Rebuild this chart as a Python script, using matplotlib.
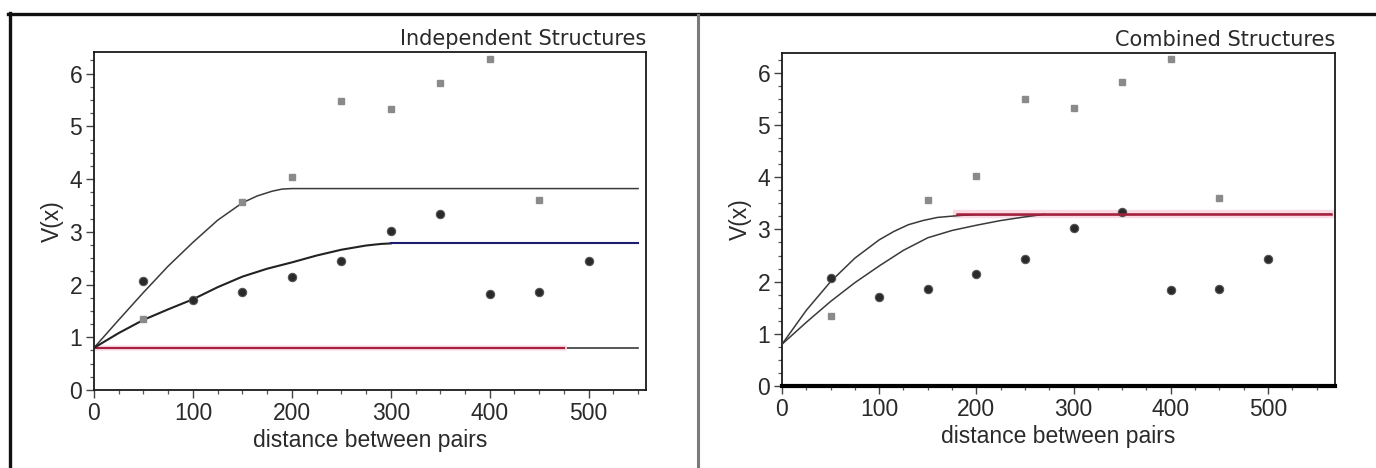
import matplotlib
matplotlib.use("Agg")
import matplotlib.pyplot as plt
from matplotlib.ticker import MultipleLocator
from matplotlib.lines import Line2D

# Empirical semivariogram points (lag distance -> V(x))
dot_lags = [50, 100, 150, 200, 250, 300, 350, 400, 450, 500]
dot_vals = [2.07, 1.70, 1.86, 2.15, 2.44, 3.02, 3.34, 1.83, 1.85, 2.44]
sq_lags = [50, 150, 200, 250, 300, 350, 400, 450]
sq_vals = [1.35, 3.57, 4.03, 5.49, 5.33, 5.83, 6.27, 3.61]

# Independent structures: fitted model curves
ind_up_x = [0, 25, 50, 75, 100, 125, 150, 165, 180, 190, 200, 550]
ind_up_y = [0.80, 1.33, 1.85, 2.35, 2.80, 3.22, 3.55, 3.68, 3.77, 3.81, 3.82, 3.82]
ind_lo_x = [0, 25, 50, 75, 100, 125, 150, 175, 200, 225, 250, 275, 290, 300]
ind_lo_y = [0.80, 1.08, 1.33, 1.53, 1.72, 1.95, 2.15, 2.30, 2.42, 2.55, 2.66, 2.74, 2.77, 2.78]
ind_lo_sill_x = [300, 550]
ind_lo_sill_y = [2.78, 2.78]
nugget_x = [0, 550]
nugget_y = [0.80, 0.80]
nugget_red_x = [0, 475]

# Combined structures: fitted model curves
cmb_up_x = [0, 25, 50, 75, 100, 115, 130, 145, 160, 185, 200, 565]
cmb_up_y = [0.80, 1.45, 2.00, 2.45, 2.80, 2.96, 3.09, 3.17, 3.23, 3.27, 3.28, 3.29]
cmb_lo_x = [0, 25, 50, 75, 100, 125, 150, 175, 200, 225, 250, 270]
cmb_lo_y = [0.80, 1.22, 1.62, 1.98, 2.30, 2.60, 2.84, 2.98, 3.08, 3.17, 3.24, 3.29]
cmb_sill_x = [180, 565]
cmb_sill_y = [3.29, 3.29]

TICK_FONT = "Liberation Sans"
TITLE_FONT = "DejaVu Sans"
CURVE = "#3a3a3a"
RED = "#a8203f"
NAVY = "#1c1c70"
TEXT = "#2a2a2a"

fig = plt.figure(figsize=(13.76, 4.68), dpi=100)
fig.patch.set_facecolor("white")

ax1 = fig.add_axes([94 / 1376, 1 - 390 / 468, 552 / 1376, 338 / 468])
ax2 = fig.add_axes([782 / 1376, 1 - 386 / 468, 553 / 1376, 333 / 468])


def style(ax, xmax, ymax, title):
    ax.set_xlim(0, xmax)
    ax.set_ylim(0, ymax)
    ax.xaxis.set_major_locator(MultipleLocator(100))
    ax.xaxis.set_minor_locator(MultipleLocator(25))
    ax.yaxis.set_major_locator(MultipleLocator(1))
    ax.yaxis.set_minor_locator(MultipleLocator(0.25))
    ax.tick_params(which="major", direction="out", length=5.5, width=1.0,
                   color="#444444", labelsize=16.5, pad=3)
    ax.tick_params(which="minor", direction="out", length=3, width=0.9,
                   color="#555555")
    for lab in ax.get_xticklabels() + ax.get_yticklabels():
        lab.set_fontfamily(TICK_FONT)
        lab.set_color(TEXT)
    for sp in ax.spines.values():
        sp.set_linewidth(1.3)
        sp.set_color("#1a1a1a")
    ax.set_xlabel("distance between pairs", fontsize=16.5, family=TICK_FONT,
                  color=TEXT, labelpad=3)
    ax.set_ylabel("V(x)", fontsize=16.5, family=TICK_FONT, color=TEXT,
                  labelpad=4)
    ax.text(1.0, 1.008, title, transform=ax.transAxes, ha="right", va="bottom",
            fontsize=15, family=TITLE_FONT, color=TEXT)


def points(ax):
    ax.plot(sq_lags, sq_vals, linestyle="none", marker="s", markersize=4,
            color="#8a8a8a", zorder=4)
    ax.plot(dot_lags, dot_vals, linestyle="none", marker="o", markersize=6,
            markerfacecolor="#2a2a2a", markeredgecolor="#555555",
            markeredgewidth=0.8, zorder=4)


# Left: independent structures
style(ax1, 558, 6.41, "Independent Structures")
ax1.plot(nugget_x, nugget_y, color=CURVE, lw=1.2, zorder=2)
ax1.plot(nugget_red_x, nugget_y, color="#fbe1e8", lw=4, zorder=2)
ax1.plot(nugget_red_x, nugget_y, color=RED, lw=1.6, zorder=3)
ax1.plot(ind_up_x, ind_up_y, color=CURVE, lw=1.1, zorder=3)
ax1.plot(ind_lo_x, ind_lo_y, color="#222222", lw=1.5, zorder=3)
ax1.plot(ind_lo_sill_x, ind_lo_sill_y, color=NAVY, lw=1.5, zorder=3)
points(ax1)

# Right: combined structures
style(ax2, 569, 6.38, "Combined Structures")
ax2.spines["bottom"].set_linewidth(3.0)
ax2.spines["bottom"].set_color("#000000")
ax2.plot(cmb_sill_x, cmb_sill_y, color="#fadbe3", lw=6, zorder=2)
ax2.plot(cmb_up_x, cmb_up_y, color=CURVE, lw=1.1, zorder=3)
ax2.plot(cmb_lo_x, cmb_lo_y, color=CURVE, lw=1.1, zorder=3)
points(ax2)
ax2.plot(cmb_sill_x, cmb_sill_y, color=RED, lw=1.8, zorder=5)

# Window frame: top and left borders, and the panel separator
fig.add_artist(Line2D([8 / 1376, 1.0], [1 - 14 / 468, 1 - 14 / 468],
                      transform=fig.transFigure, color="#111111", lw=2.4))
fig.add_artist(Line2D([9.5 / 1376, 9.5 / 1376], [0, 1 - 13 / 468],
                      transform=fig.transFigure, color="#111111", lw=2.4))
fig.add_artist(Line2D([698 / 1376, 698 / 1376], [0, 1 - 15 / 468],
                      transform=fig.transFigure, color="#7a7a7a", lw=2.2))

fig.savefig("out.png", dpi=100, facecolor="white")
